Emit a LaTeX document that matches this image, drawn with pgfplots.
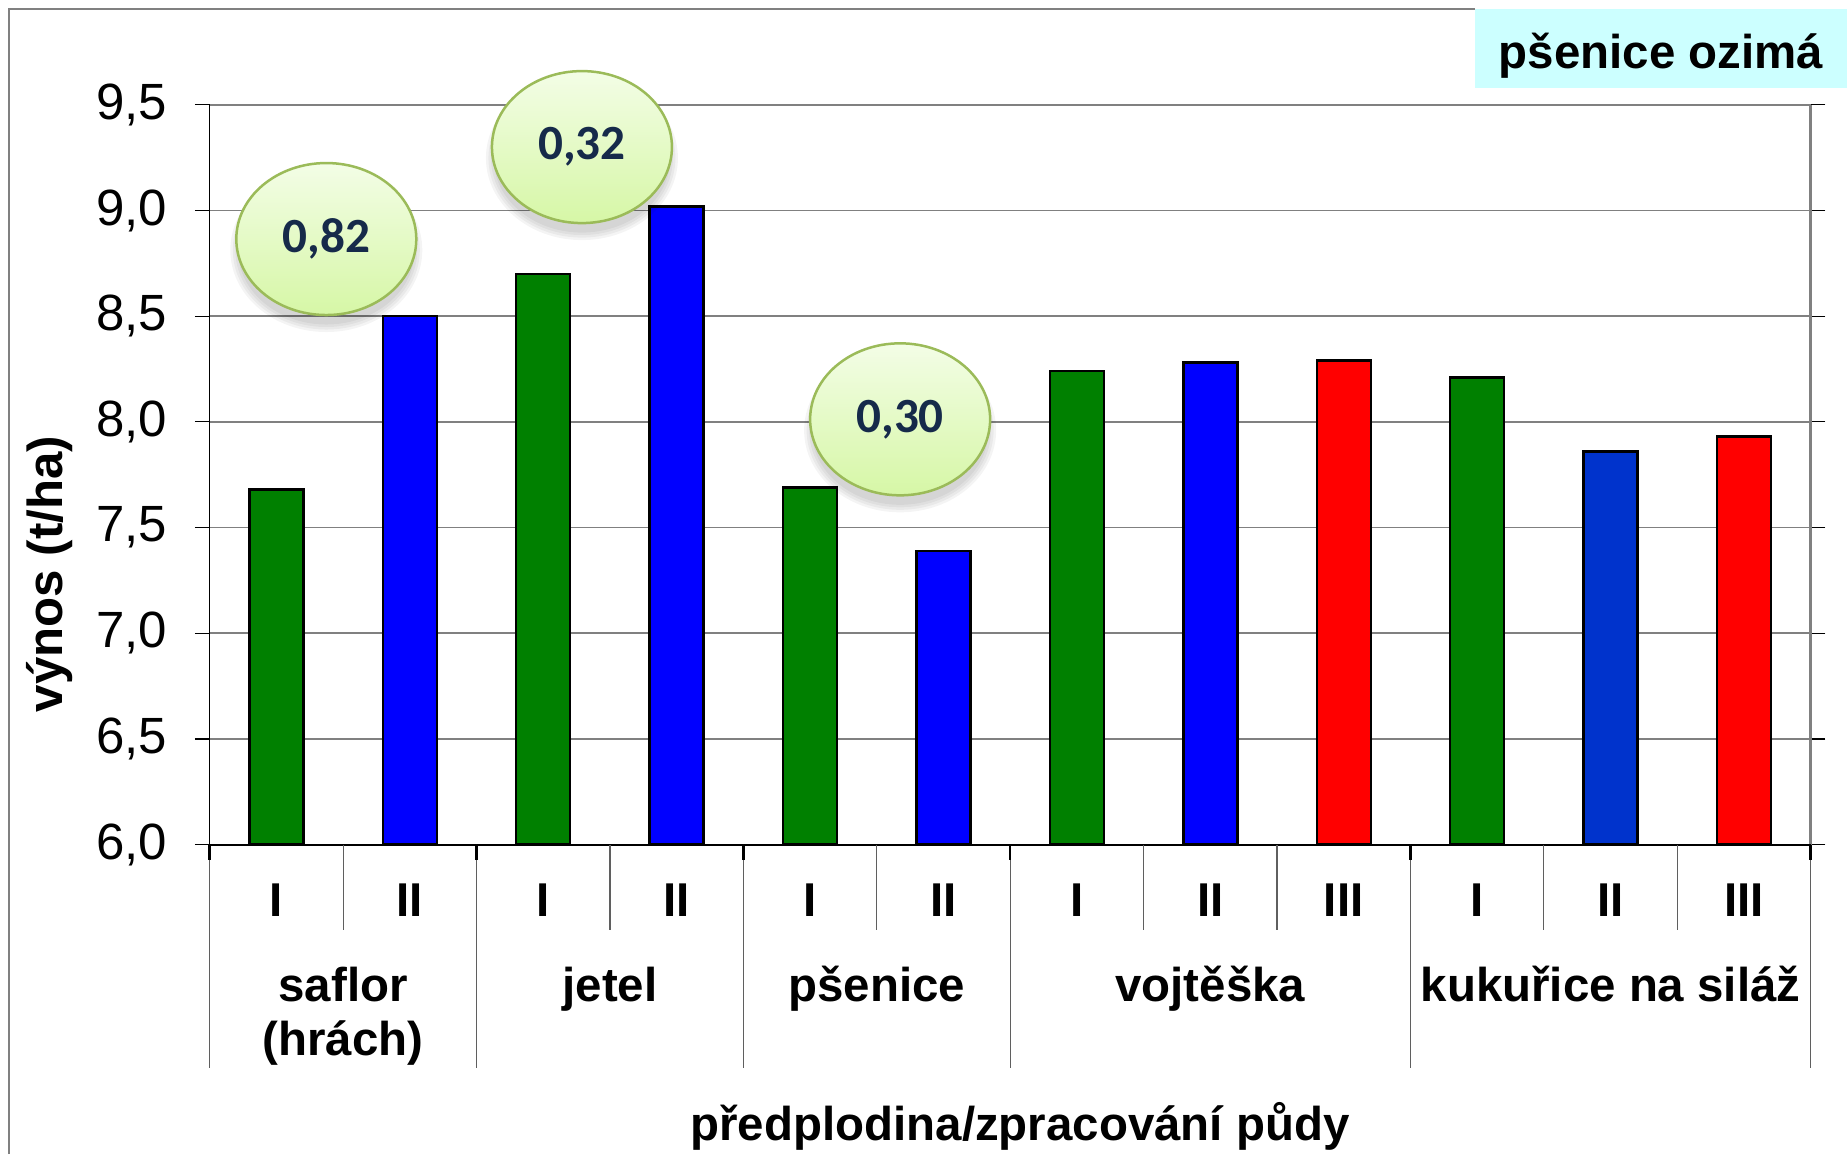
\documentclass[border=0pt]{standalone}
\usepackage{pgfplots}
\usepackage{pgfplotstable}
\pgfplotsset{compat=1.18}
\usepackage{fontspec}
\setmainfont{Liberation Sans}
\newfontfamily\carlito{Carlito}

\definecolor{barGreen}{RGB}{0,128,0}
\definecolor{barBlue}{RGB}{0,0,255}
\definecolor{barRed}{RGB}{255,0,0}
\definecolor{barNavy}{RGB}{0,51,204}
\definecolor{bubbleTop}{RGB}{243,253,230}
\definecolor{bubbleBot}{RGB}{214,247,166}
\definecolor{bubbleEdge}{RGB}{155,187,89}
\definecolor{bubbleText}{RGB}{22,42,74}
\definecolor{titleFill}{RGB}{204,255,255}
\definecolor{gridGray}{RGB}{128,128,128}
\definecolor{sepGray}{RGB}{95,95,95}

% yields (t/ha) by previous crop and tillage variant (x = position 0..11)
\pgfplotstableread{
x y
0 7.68
2 8.70
4 7.69
6 8.24
9 8.21
}\greenbars
\pgfplotstableread{
x y
1 8.50
3 9.02
5 7.39
7 8.28
}\bluebars
\pgfplotstableread{
x y
10 7.86
}\navybars
\pgfplotstableread{
x y
8 8.29
11 7.93
}\redbars

\newcommand{\lbl}{\fontsize{13.5}{16}\selectfont\bfseries}

% soft-shadowed bubble with a difference value: {x}{y}{text}
\newcommand{\bubble}[3]{%
  \fill[black, opacity=0.045] ([yshift=-1.1mm]axis cs:#1,#2) ellipse [x radius=8.85mm, y radius=7.45mm];
  \fill[black, opacity=0.045] ([yshift=-1.1mm]axis cs:#1,#2) ellipse [x radius=9.10mm, y radius=7.70mm];
  \fill[black, opacity=0.045] ([yshift=-1.1mm]axis cs:#1,#2) ellipse [x radius=9.35mm, y radius=7.95mm];
  \fill[black, opacity=0.045] ([yshift=-1.1mm]axis cs:#1,#2) ellipse [x radius=9.60mm, y radius=8.20mm];
  \shadedraw[top color=bubbleTop, bottom color=bubbleBot, draw=bubbleEdge, line width=0.25mm]
    (axis cs:#1,#2) ellipse [x radius=9.0mm, y radius=7.6mm];
  \node[text=bubbleText, font=\carlito\bfseries\fontsize{14}{16}\selectfont] at (axis cs:#1,#2) {#3};
}

\begin{document}
\begin{tikzpicture}[x=1cm,y=1cm]
\useasboundingbox (0,0) rectangle (18.47,11.54);

% outer frame and title box
\draw[gridGray, line width=0.2mm] (0.094,0) -- (0.094,11.447) -- (14.75,11.447);
\fill[titleFill] (14.75,11.447) rectangle (18.47,10.66);
\node[font=\lbl] at (16.61,10.98) {pšenice ozimá};

% axis titles
\node[font=\fontsize{14}{17}\selectfont\bfseries, rotate=90] at (0.50,5.80) {výnos (t/ha)};
\node[font=\lbl, anchor=base] at (10.20,0.14) {předplodina/zpracování půdy};

\begin{axis}[
  at={(2.097cm,3.094cm)}, anchor=south west,
  scale only axis, width=16.01cm, height=7.398cm,
  xmin=-0.5, xmax=11.5, ymin=6, ymax=9.5,
  clip=false,
  ybar, bar width=0.54cm,
  axis line style={draw=none},
  ytick={6,6.5,...,9.5},
  ymajorgrids, major grid style={gridGray, line width=0.15mm},
  tick align=outside, major tick length=1.47mm,
  ytick style={black, line width=0.12mm},
  xtick={0,...,11},
  xticklabels={I,II,I,II,I,II,I,II,III,I,II,III},
  xtick style={draw=none},
  xticklabel style={font=\lbl, anchor=base, yshift=-5.71mm},
  yticklabel style={font=\fontsize{14.5}{17}\selectfont, anchor=east, inner sep=0pt, xshift=-2.7mm},
  /pgf/number format/assume math mode=true,
  /pgf/number format/.cd, use comma, fixed, fixed zerofill, precision=1,
]
\addplot[bar shift=0pt, fill=barGreen, draw=black, line width=0.25mm] table[x=x,y=y] {\greenbars};
\addplot[bar shift=0pt, fill=barBlue, draw=black, line width=0.25mm] table[x=x,y=y] {\bluebars};
\addplot[bar shift=0pt, fill=barNavy, draw=black, line width=0.25mm] table[x=x,y=y] {\navybars};
\addplot[bar shift=0pt, fill=barRed, draw=black, line width=0.25mm] table[x=x,y=y] {\redbars};

% plot frame
\draw[black, line width=0.12mm] (rel axis cs:0,0) -- (rel axis cs:0,1);
\draw[gridGray, line width=0.25mm] (rel axis cs:1,0) -- (rel axis cs:1,1);
\draw[black, line width=0.2mm] (rel axis cs:0,0) -- (rel axis cs:1,0);

% category separators below the axis
\pgfplotsinvokeforeach{0.5,2.5,4.5,6.5,7.5,9.5,10.5}{
  \draw[sepGray, line width=0.12mm] (axis cs:#1,6) -- ([yshift=-8.54mm]axis cs:#1,6);
}
\pgfplotsinvokeforeach{-0.5,1.5,3.5,5.5,8.5,11.5}{
  \draw[sepGray, line width=0.12mm] (axis cs:#1,6) -- ([yshift=-22.34mm]axis cs:#1,6);
  \draw[black, line width=0.25mm] (axis cs:#1,6) -- ([yshift=-1.5mm]axis cs:#1,6);
}

% group names
\node[font=\lbl, anchor=base] at ([yshift=-15.65mm]axis cs:0.5,6) {saflor};
\node[font=\lbl, anchor=base] at ([yshift=-21.05mm]axis cs:0.5,6) {(hrách)};
\node[font=\lbl, anchor=base] at ([yshift=-15.65mm]axis cs:2.5,6) {jetel};
\node[font=\lbl, anchor=base] at ([yshift=-15.65mm]axis cs:4.5,6) {pšenice};
\node[font=\lbl, anchor=base] at ([yshift=-15.65mm]axis cs:7,6) {vojtěška};
\node[font=\lbl, anchor=base] at ([yshift=-15.65mm]axis cs:10,6) {kukuřice na siláž};

% differences between tillage variants
\bubble{0.374}{8.865}{0,82}
\bubble{2.29}{9.30}{0,32}
\bubble{4.675}{8.012}{0,30}
\end{axis}
\end{tikzpicture}
\end{document}
